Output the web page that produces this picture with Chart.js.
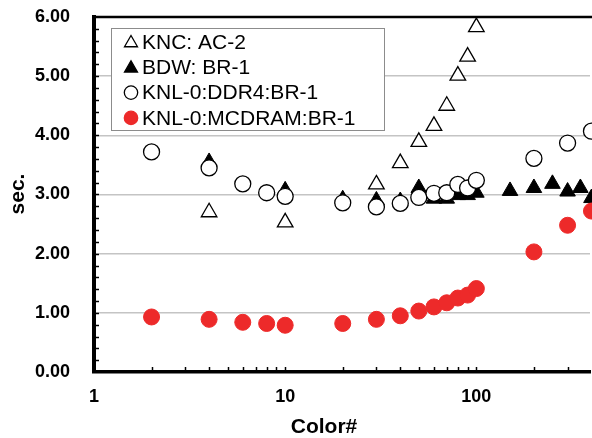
<!DOCTYPE html>
<html>
<head>
<meta charset="utf-8">
<script src="https://cdn.jsdelivr.net/npm/chart.js@4.4.0/dist/chart.umd.min.js"></script>
<style>
  html, body { margin: 0; padding: 0; background: #fff; }
</style>
</head>
<body>
<canvas id="myScatter" width="592" height="438"></canvas>
<script>
// x = Color#, y = sec.
const kncX = [4, 10, 30, 40, 50, 60, 70, 80, 90, 100];
const kncY = [2.70, 2.53, 3.17, 3.53, 3.89, 4.16, 4.50, 5.01, 5.33, 5.83];

const bdwX = [4, 10, 20, 30, 40, 50, 60, 70, 80, 90, 100, 150, 200, 250, 300, 350, 400];
const bdwY = [3.55, 3.07, 2.92, 2.90, 2.89, 3.11, 2.93, 2.93, 2.99, 2.99, 3.03, 3.06, 3.11, 3.18, 3.05, 3.11, 2.94];

const ddr4X = [2, 4, 6, 8, 10, 20, 30, 40, 50, 60, 70, 80, 90, 100, 200, 300, 400];
const ddr4Y = [3.72, 3.45, 3.18, 3.03, 2.97, 2.86, 2.79, 2.85, 2.95, 3.02, 3.03, 3.17, 3.11, 3.24, 3.61, 3.87, 4.07];

const mcdramX = [2, 4, 6, 8, 10, 20, 30, 40, 50, 60, 70, 80, 90, 100, 200, 300, 400];
const mcdramY = [0.93, 0.89, 0.84, 0.82, 0.79, 0.82, 0.89, 0.95, 1.03, 1.10, 1.17, 1.25, 1.30, 1.41, 2.03, 2.48, 2.72];

const seriesNames = ['KNC: AC-2', 'BDW: BR-1', 'KNL-0:DDR4:BR-1', 'KNL-0:MCDRAM:BR-1'];
const xLabels = [1, 10, 100];
const xTitle = 'Color#';
const yTitle = 'sec.';

const RED = '#ed2a2a';
const FONT = "'Liberation Sans', Arial, sans-serif";

function pts(xs, ys) {
  return xs.map((x, i) => ({ x: x, y: ys[i] }));
}

// draws a point symbol for the legend
function symbol(ctx, style, x, y, r, fill, stroke) {
  ctx.save();
  ctx.beginPath();
  if (style === 'triangle') {
    ctx.moveTo(x, y - r);
    ctx.lineTo(x + r * 0.866, y + r * 0.5);
    ctx.lineTo(x - r * 0.866, y + r * 0.5);
    ctx.closePath();
  } else {
    ctx.arc(x, y, r, 0, Math.PI * 2);
  }
  ctx.fillStyle = fill;
  ctx.fill();
  ctx.lineWidth = 1.3;
  ctx.strokeStyle = stroke;
  ctx.stroke();
  ctx.restore();
}

const decor = {
  id: 'decor',
  beforeDatasetsDraw(chart) {
    const ctx = chart.ctx;
    const a = chart.chartArea;
    const xs = chart.scales.x;
    const ys = chart.scales.y;
    ctx.save();
    ctx.strokeStyle = '#000';
    ctx.lineWidth = 1.5;
    // y minor ticks, inside
    for (let v = 0.2; v < 6; v += 0.2) {
      const py = Math.round(ys.getPixelForValue(v)) + 0.5;
      ctx.beginPath();
      ctx.moveTo(a.left, py);
      ctx.lineTo(a.left + 5, py);
      ctx.stroke();
    }
    // x minor ticks, inside
    [1, 10, 100].forEach(d => {
      for (let k = 2; k <= 10; k++) {
        const v = d * k;
        if (v > xs.max) return;
        const px = Math.round(xs.getPixelForValue(v)) + 0.5;
        ctx.beginPath();
        ctx.moveTo(px, a.bottom);
        ctx.lineTo(px, a.bottom - 5);
        ctx.stroke();
      }
    });
    // top frame line
    ctx.lineWidth = 2.5;
    ctx.beginPath();
    ctx.moveTo(a.left, a.top);
    ctx.lineTo(chart.width, a.top);
    ctx.stroke();
    ctx.restore();
  },
  afterDatasetsDraw(chart) {
    const ctx = chart.ctx;
    ctx.save();
    // legend box
    ctx.fillStyle = '#fff';
    ctx.fillRect(111, 28, 273, 102);
    ctx.strokeStyle = '#8c8c8c';
    ctx.lineWidth = 1;
    ctx.strokeRect(111.5, 28.5, 273, 102);
    const styles = [
      ['triangle', '#fff', '#000', 7.5],
      ['triangle', '#000', '#000', 7.5],
      ['circle', '#fff', '#000', 6.7],
      ['circle', RED, RED, 6.7]
    ];
    ctx.font = '21px ' + FONT;
    ctx.textBaseline = 'middle';
    ctx.textAlign = 'left';
    seriesNames.forEach((name, i) => {
      const cy = 42 + i * 25.3;
      const s = styles[i];
      symbol(ctx, s[0], 131, cy + (s[0] === 'triangle' ? 1 : 0), s[3], s[1], s[2]);
      ctx.fillStyle = '#000';
      ctx.fillText(name, 142, cy + 1);
    });
    ctx.restore();
  },
  afterDraw(chart) {
    const ctx = chart.ctx;
    ctx.save();
    ctx.fillStyle = '#000';
    ctx.font = 'bold 21px ' + FONT;
    ctx.textAlign = 'center';
    ctx.textBaseline = 'middle';
    ctx.fillText(xTitle, 324, 427);
    ctx.translate(18, 194);
    ctx.rotate(-Math.PI / 2);
    ctx.fillText(yTitle, 0, 0);
    ctx.restore();
  }
};

const ctx1 = document.getElementById('myScatter').getContext('2d');

const chart1 = new Chart(ctx1, {
  type: 'scatter',
  data: {
    datasets: [{
      label: seriesNames[0],
      data: pts(kncX, kncY),
      pointStyle: 'triangle',
      pointRadius: 9,
      backgroundColor: '#fff',
      borderColor: '#000',
      borderWidth: 1.3,
      order: 4,
      clip: false
    }, {
      label: seriesNames[1],
      data: pts(bdwX, bdwY),
      pointStyle: 'triangle',
      pointRadius: 9,
      backgroundColor: '#000',
      borderColor: '#000',
      borderWidth: 1,
      order: 3,
      clip: false
    }, {
      label: seriesNames[2],
      data: pts(ddr4X, ddr4Y),
      pointStyle: 'circle',
      pointRadius: 8,
      backgroundColor: '#fff',
      borderColor: '#000',
      borderWidth: 1.3,
      order: 2,
      clip: false
    }, {
      label: seriesNames[3],
      data: pts(mcdramX, mcdramY),
      pointStyle: 'circle',
      pointRadius: 8,
      backgroundColor: RED,
      borderColor: RED,
      borderWidth: 1,
      order: 1,
      clip: false
    }]
  },
  options: {
    responsive: false,
    animation: false,
    devicePixelRatio: 1,
    layout: { autoPadding: false, padding: { top: 17, right: 0, left: 0, bottom: 0 } },
    plugins: {
      legend: { display: false },
      tooltip: { enabled: false }
    },
    scales: {
      x: {
        type: 'logarithmic',
        min: 1,
        max: 393,
        afterFit: (scale) => { scale.height = 66; },
        grid: { display: false, drawTicks: true, tickLength: 12, tickColor: 'rgba(0,0,0,0)' },
        border: { display: true, color: '#000', width: 3.5 },
        ticks: {
          autoSkip: false,
          maxRotation: 0,
          padding: 2,
          color: '#000',
          font: { family: FONT, size: 18, weight: 'bold' },
          callback: (v) => xLabels.includes(v) ? String(v) : ''
        }
      },
      y: {
        min: 0,
        max: 6,
        afterFit: (scale) => { scale.width = 94; },
        grid: { color: '#c4c4c4', lineWidth: 1.5, drawTicks: true, tickLength: 22, tickColor: 'rgba(0,0,0,0)' },
        border: { display: true, color: '#000', width: 4 },
        ticks: {
          stepSize: 1,
          padding: 2,
          color: '#000',
          font: { family: FONT, size: 18, weight: 'bold' },
          callback: (v) => v.toFixed(2)
        }
      }
    }
  },
  plugins: [decor]
});
</script>
</body>
</html>
